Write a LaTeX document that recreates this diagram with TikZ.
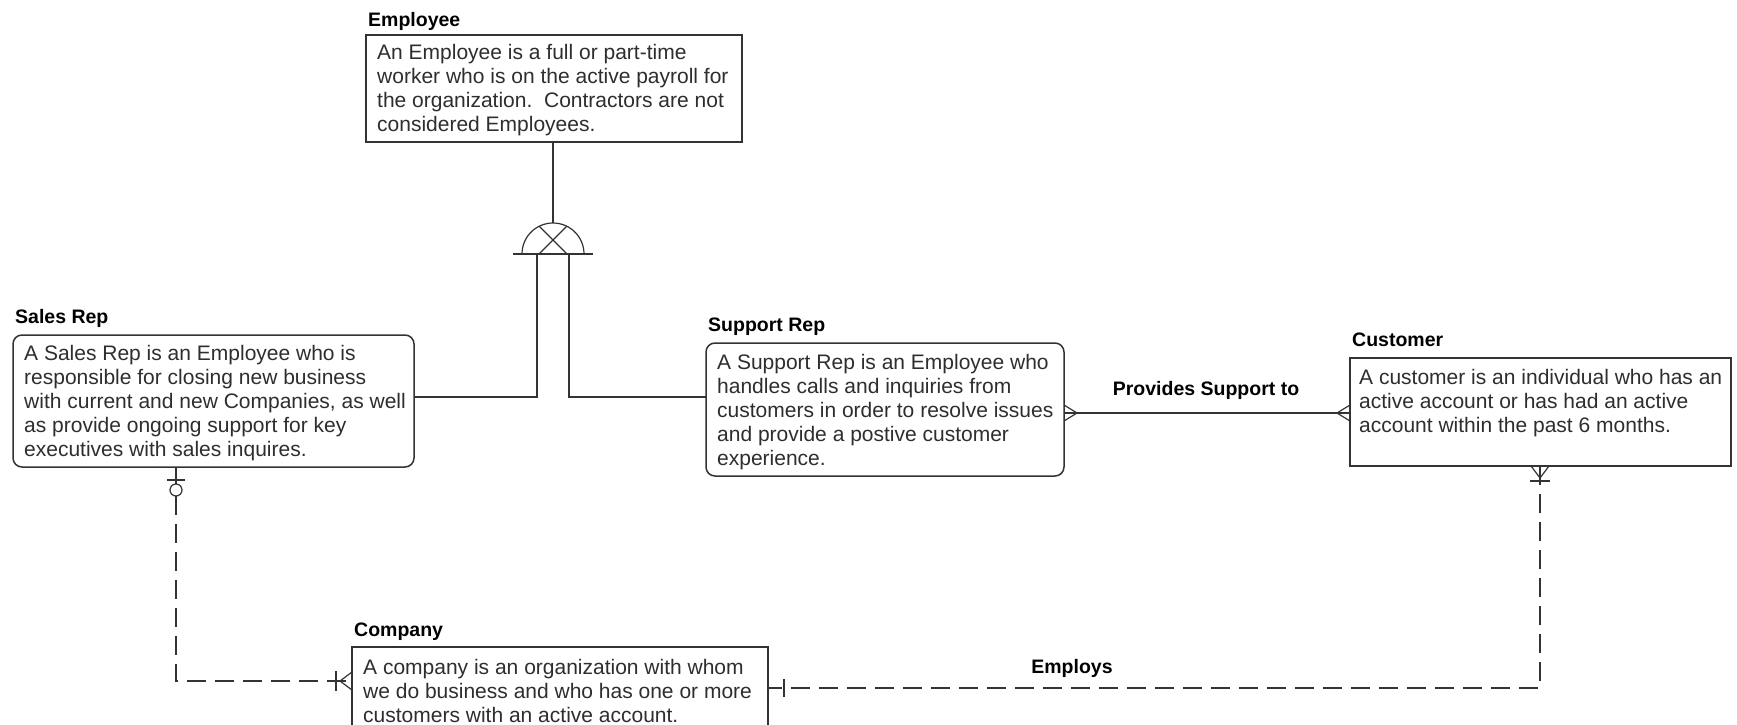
\documentclass[tikz,border=0pt]{standalone}
\usepackage{fontspec}
\setmainfont{Liberation Sans}
\begin{document}
\begin{tikzpicture}[x=1pt,y=-1pt,
  ent/.style={draw=black!80, line width=1.5pt, anchor=north west, inner sep=0pt, outer sep=0pt},
  rent/.style={ent, rounded corners=9pt},
  body/.style={anchor=north west, inner sep=0pt, align=left, font=\fontsize{21}{24}\selectfont, text=black!82},
  ename/.style={anchor=west, inner sep=0pt, font=\bfseries\fontsize{19.5}{22}\selectfont},
  rel/.style={inner sep=0pt, font=\bfseries\fontsize{19.5}{22}\selectfont},
  conn/.style={line width=1.6pt, draw=black!80},
  thin/.style={line width=1.2pt, draw=black!80},
  dconn/.style={conn, dash pattern=on 19pt off 9pt}
]
\clip (0,0) rectangle (1737,725);
\fill[white] (0,0) rectangle (1737,725);

% entities
\node[ent, minimum width=376pt, minimum height=107pt] (emp) at (366,35) {};
\node[ename] (empL) at (368,21) {Employee};
\node[body] (empT) at (377,44) {An Employee is a full or part-time\\worker who is on the active payroll for\\the organization.\ \ Contractors are not\\considered Employees.};

\node[rent, minimum width=401pt, minimum height=132pt] (srep) at (13,335) {};
\node[ename] (srepL) at (15,318) {Sales Rep};
\node[body] (srepT) at (24,345) {A Sales Rep is an Employee who is\\responsible for closing new business\\with current and new Companies, as well\\as provide ongoing support for key\\executives with sales inquires.};

\node[rent, minimum width=358pt, minimum height=133pt] (prep) at (706,343) {};
\node[ename] (prepL) at (708,327) {Support Rep};
\node[body] (prepT) at (717,354) {A Support Rep is an Employee who\\handles calls and inquiries from\\customers in order to resolve issues\\and provide a postive customer\\experience.};

\node[ent, minimum width=381pt, minimum height=108pt] (cust) at (1350,358) {};
\node[ename] (custL) at (1352,340) {Customer};
\node[body] (custT) at (1359,369) {A customer is an individual who has an\\active account or has had an active\\account within the past 6 months.};

\node[ent, minimum width=416pt, minimum height=100pt] (comp) at (352,647) {};
\node[ename] (compL) at (354,632) {Company};
\node[body] (compT) at (363,659) {A company is an organization with whom\\we do business and who has one or more\\customers with an active account.};

% subtype symbol
\coordinate (symC) at (553,254);
\coordinate (symTop) at (553,223);
\coordinate (symL) at (537,254);
\coordinate (symR) at (569,254);
\coordinate (bendL) at (537,397);
\coordinate (bendR) at (569,397);
\draw[conn] (symC |- emp.south) -- (symTop);
\draw[conn] (513,254) -- (593,254);
\draw[thin] (522,254) arc[start angle=180, end angle=360, radius=31];
\begin{scope}
  \clip (522,254) arc[start angle=180, end angle=360, radius=31] -- cycle;
  \draw[thin] (513,200) -- (573,260);
  \draw[thin] (593,200) -- (533,260);
\end{scope}
\draw[conn] (symL) -- (bendL) -- (bendL -| srep.east);
\draw[conn] (symR) -- (bendR) -- (bendR -| prep.west);

% Provides Support to
\coordinate (psA) at (1064,413);
\coordinate (psB) at (1350,413);
\draw[conn] (psA -| prep.east) -- (psB -| cust.west);
\draw[thin] (psA) ++(0,-8) -- ++(13,8) -- ++(-13,8);
\draw[thin] (psB) ++(0,-8) -- ++(-13,8) -- ++(13,8);
\node[rel] (psL) at (1206,390) {Provides Support to};

% Sales Rep -- Company
\coordinate (scA) at (176,467);
\coordinate (scBend) at (176,681);
\draw[conn] (scA) -- (176,484);
\draw[thin] (167,480) -- (185,480);
\draw[thin] (176,490) circle[radius=6];
\draw[dconn] (176,496) -- (scBend) -- (scBend -| comp.west);
\draw[thin] (352,672) -- (340,681) -- (352,690);
\draw[conn] (336,671) -- (336,691);

% Customer -- Company
\coordinate (ccBend) at (1540,688);
\draw[dconn] (cust.south -| ccBend) -- (ccBend) -- (ccBend -| comp.east);
\draw[thin] (1531,466) -- (1540,478) -- (1549,466);
\draw[conn] (1530,481) -- (1550,481);
\draw[conn] (784,679) -- (784,697);
\node[rel] (emL) at (1072,668) {Employs};
\end{tikzpicture}
\end{document}
